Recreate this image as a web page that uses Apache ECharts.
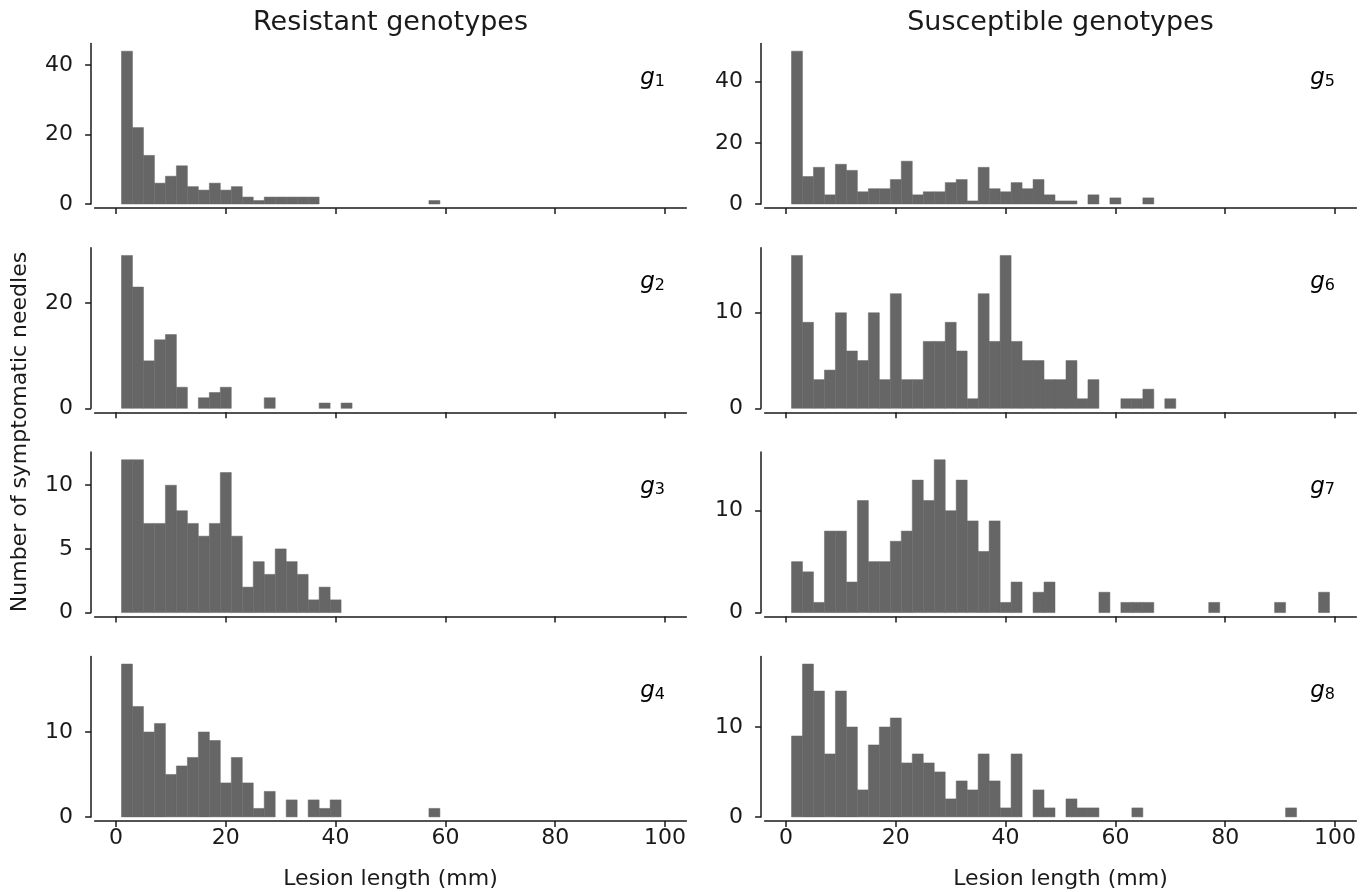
<!DOCTYPE html>
<html><head><meta charset="utf-8">
<script src="https://cdn.jsdelivr.net/npm/echarts@6/dist/echarts.min.js"></script>
<style>html,body{margin:0;padding:0;background:#fff}#c{width:1370px;height:892px}</style>
</head><body><div id="c"></div>
<script>
// Histogram bins: [BIN_START + k*BIN_WIDTH, BIN_START + (k+1)*BIN_WIDTH)
const BIN_START = 1;
const BIN_WIDTH = 2;

// Counts per bin (Resistant genotypes)
const g1 = [44,22,14,6,8,11,5,4,6,4,5,2,1,2,2,2,2,2,0,0,0,0,0,0,0,0,0,0,1];
const g2 = [29,23,9,13,14,4,0,2,3,4,0,0,0,2,0,0,0,0,1,0,1];
const g3 = [12,12,7,7,10,8,7,6,7,11,6,2,4,3,5,4,3,1,2,1];
const g4 = [18,13,10,11,5,6,7,10,9,4,7,4,1,3,0,2,0,2,1,2,0,0,0,0,0,0,0,0,1];
// Counts per bin (Susceptible genotypes)
const g5 = [50,9,12,3,13,11,4,5,5,8,14,3,4,4,7,8,1,12,5,4,7,5,8,3,1,1,0,3,0,2,0,0,2];
const g6 = [16,9,3,4,10,6,5,10,3,12,3,3,7,7,9,6,1,12,7,16,7,5,5,3,3,5,1,3,0,0,1,1,2,0,1];
const g7 = [5,4,1,8,8,3,11,5,5,7,8,13,11,15,10,13,9,6,9,1,3,0,2,3,0,0,0,0,2,0,1,1,1,0,0,0,0,0,1,0,0,0,0,0,1,0,0,0,2];
const g8 = [9,17,14,7,14,10,3,8,10,11,6,7,6,5,2,4,3,7,4,1,7,0,3,1,0,2,1,1,0,0,0,1,0,0,0,0,0,0,0,0,0,0,0,0,0,1];

const panelNames = ['1','2','3','4','5','6','7','8'];
const panelCounts = [g1,g2,g3,g4,g5,g6,g7,g8];
const yTicks = [[0,20,40],[0,20],[0,5,10],[0,10],[0,20,40],[0,10],[0,10],[0,10]];
const xTicks = [0,20,40,60,80,100];
const X_MIN = -3.9, X_MAX = 103.9;
const colTitles = ['Resistant genotypes','Susceptible genotypes'];
const xName = 'Lesion length (mm)';
const yName = 'Number of symptomatic needles';

// layout (style)
const FONT = 'DejaVu Sans';
const TXT = '#1a1a1a';
const colLeft = [94.6, 764.6];
const gridW = 591.8;
const rowTop = [43.5, 247.8, 452.1, 656.4];
const gridH = 160.5;

const grids = [], xAxes = [], yAxes = [], series = [], graphics = [];
for (let i = 0; i < 8; i++) {
  const col = Math.floor(i / 4), row = i % 4;
  const left = colLeft[col], top = rowTop[row];
  grids.push({left: left, top: top, width: gridW, height: gridH, containLabel: false, outerBoundsMode: 'none'});
  const bottom = row === 3;
  xAxes.push({
    type: 'value', gridIndex: i, min: X_MIN, max: X_MAX, offset: 4, position: 'bottom',
    splitLine: {show: false},
    axisLine: {show: true, onZero: false, lineStyle: {color: TXT, width: 1.5}},
    axisTick: {show: true, length: 6, lineStyle: {color: TXT, width: 1.5}, customValues: xTicks},
    axisLabel: {show: bottom, customValues: xTicks, color: TXT, fontFamily: FONT, fontSize: 22, margin: 6},
    name: bottom ? xName : '', nameLocation: 'middle', nameGap: 47,
    nameTextStyle: {color: TXT, fontFamily: FONT, fontSize: 22}
  });
  yAxes.push({
    type: 'value', gridIndex: i, min: 0, max: v => v.max * 1.05, offset: 3.5, position: 'left',
    splitLine: {show: false},
    axisLine: {show: true, onZero: false, lineStyle: {color: TXT, width: 1.5}},
    axisTick: {show: true, length: 6, lineStyle: {color: TXT, width: 1.5}, customValues: yTicks[i]},
    axisLabel: {customValues: yTicks[i], color: TXT, fontFamily: FONT, fontSize: 22, margin: 18}
  });
  const data = [];
  panelCounts[i].forEach((c, k) => {
    if (c > 0) data.push([BIN_START + k * BIN_WIDTH, BIN_START + (k + 1) * BIN_WIDTH, c]);
  });
  series.push({
    type: 'custom', xAxisIndex: i, yAxisIndex: i, data: data,
    encode: {x: [0, 1], y: 2},
    renderItem: function (params, api) {
      const p0 = api.coord([api.value(0), api.value(2)]);
      const p1 = api.coord([api.value(1), 0]);
      return {type: 'rect', shape: {x: p0[0], y: p0[1], width: p1[0] - p0[0], height: p1[1] - p0[1]},
        style: {fill: '#666666', stroke: '#666666', lineWidth: 0.5}};
    }
  });
  graphics.push({
    type: 'text', x: left + gridW * (100 - X_MIN) / (X_MAX - X_MIN), y: top + 33,
    style: {
      text: '{g|g}{s|' + panelNames[i] + '}', align: 'right', verticalAlign: 'middle',
      rich: {
        g: {fontFamily: FONT, fontStyle: 'italic', fontSize: 23, color: TXT, lineHeight: 26, verticalAlign: 'bottom'},
        s: {fontFamily: FONT, fontSize: 16, color: TXT, lineHeight: 20, verticalAlign: 'bottom'}
      }
    }
  });
}
colTitles.forEach((t, c) => {
  graphics.push({type: 'text', x: colLeft[c] + gridW / 2, y: 23,
    style: {text: t, align: 'center', verticalAlign: 'middle', fontFamily: FONT, fontSize: 27, fill: TXT}});
});
graphics.push({type: 'text', x: 20, y: 432, rotation: Math.PI / 2,
  style: {text: yName, align: 'center', verticalAlign: 'middle', fontFamily: FONT, fontSize: 22, fill: TXT}});

const chart = echarts.init(document.getElementById('c'), null, {renderer: 'canvas'});
chart.setOption({
  animation: false,
  backgroundColor: '#ffffff',
  grid: grids, xAxis: xAxes, yAxis: yAxes, series: series, graphic: graphics
});
</script></body></html>
